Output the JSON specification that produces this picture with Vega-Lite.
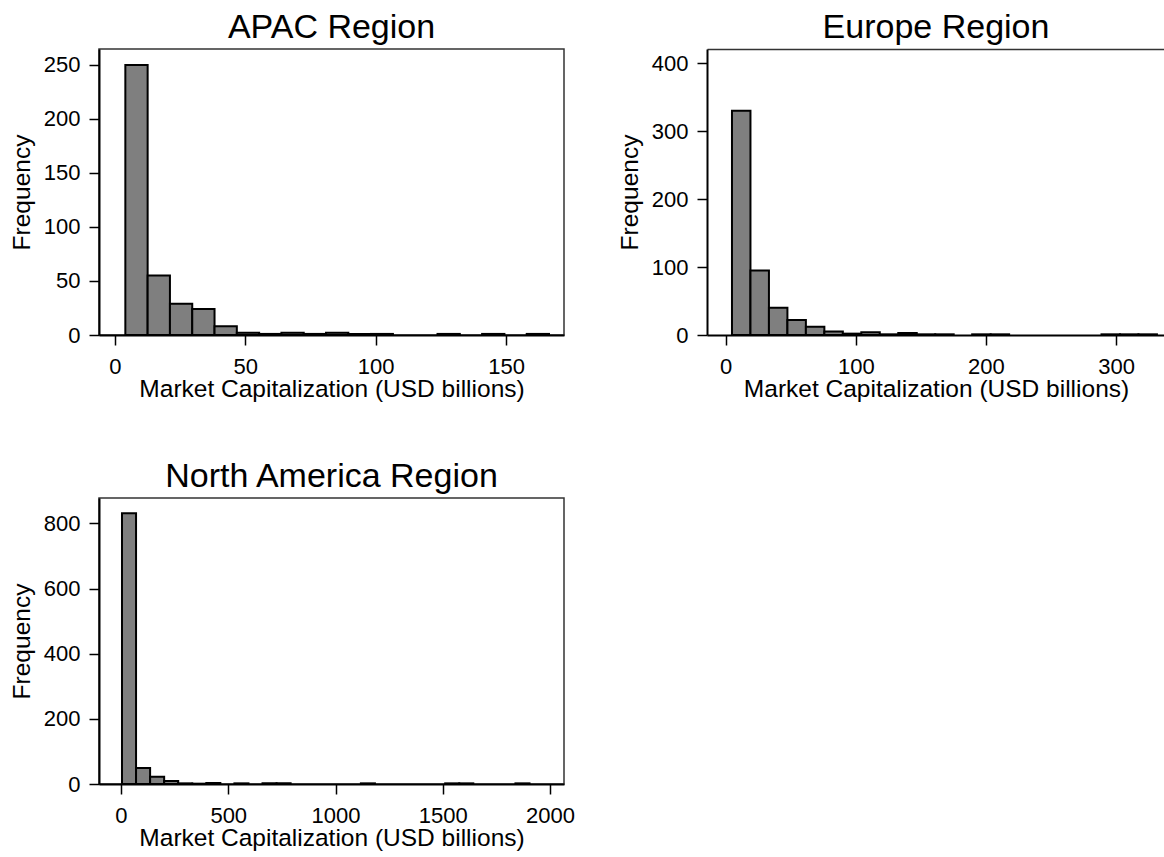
{
  "$schema": "https://vega.github.io/schema/vega-lite/v6.json",
  "background": "white",
  "padding": {"left": 8, "top": 10, "right": 0, "bottom": 0},
  "config": {
    "font": "Liberation Sans",
    "view": {"stroke": "#333333", "strokeWidth": 1.5},
    "axis": {
      "grid": false,
      "labelFont": "Liberation Sans",
      "titleFont": "Liberation Sans",
      "labelFontSize": 22,
      "titleFontSize": 24.5,
      "titleFontWeight": "normal",
      "labelColor": "black",
      "titleColor": "black",
      "domainColor": "black",
      "domainWidth": 2,
      "tickColor": "black",
      "tickWidth": 1.5,
      "tickSize": 10,
      "labelPadding": 9,
      "format": "d"
    },
    "axisX": {"titlePadding": 0, "labelPadding": 11, "labelFlush": false},
    "axisY": {"titlePadding": 9},
    "title": {"font": "Liberation Sans", "fontSize": 34, "fontWeight": "normal", "color": "black", "anchor": "middle", "offset": 4}
  },
  "datasets": {
    "apac": [
      {"lo": 4.0, "hi": 12.55, "n": 250},
      {"lo": 12.55, "hi": 21.1, "n": 55},
      {"lo": 21.1, "hi": 29.65, "n": 29},
      {"lo": 29.65, "hi": 38.2, "n": 24},
      {"lo": 38.2, "hi": 46.75, "n": 8},
      {"lo": 46.75, "hi": 55.3, "n": 2},
      {"lo": 55.3, "hi": 63.85, "n": 1},
      {"lo": 63.85, "hi": 72.4, "n": 2},
      {"lo": 72.4, "hi": 80.95, "n": 1},
      {"lo": 80.95, "hi": 89.5, "n": 2},
      {"lo": 89.5, "hi": 98.05, "n": 1},
      {"lo": 98.05, "hi": 106.6, "n": 1},
      {"lo": 123.7, "hi": 132.25, "n": 1},
      {"lo": 140.8, "hi": 149.35, "n": 1},
      {"lo": 157.9, "hi": 166.45, "n": 1}
    ],
    "europe": [
      {"lo": 4.8, "hi": 19.0, "n": 330},
      {"lo": 19.0, "hi": 33.2, "n": 95},
      {"lo": 33.2, "hi": 47.4, "n": 40},
      {"lo": 47.4, "hi": 61.6, "n": 22},
      {"lo": 61.6, "hi": 75.8, "n": 12},
      {"lo": 75.8, "hi": 90.0, "n": 5},
      {"lo": 90.0, "hi": 104.2, "n": 2},
      {"lo": 104.2, "hi": 118.4, "n": 4},
      {"lo": 118.4, "hi": 132.6, "n": 1},
      {"lo": 132.6, "hi": 146.8, "n": 3},
      {"lo": 146.8, "hi": 161.0, "n": 1},
      {"lo": 161.0, "hi": 175.2, "n": 1},
      {"lo": 189.4, "hi": 203.6, "n": 1},
      {"lo": 203.6, "hi": 217.8, "n": 1},
      {"lo": 288.8, "hi": 303.0, "n": 1},
      {"lo": 303.0, "hi": 317.2, "n": 1},
      {"lo": 317.2, "hi": 331.4, "n": 1}
    ],
    "na": [
      {"lo": 4.7, "hi": 70.2, "n": 831},
      {"lo": 70.2, "hi": 135.7, "n": 49},
      {"lo": 135.7, "hi": 201.2, "n": 22},
      {"lo": 201.2, "hi": 266.7, "n": 9},
      {"lo": 266.7, "hi": 332.2, "n": 2},
      {"lo": 332.2, "hi": 397.7, "n": 1},
      {"lo": 397.7, "hi": 463.2, "n": 3},
      {"lo": 528.7, "hi": 594.2, "n": 2},
      {"lo": 659.7, "hi": 725.2, "n": 2},
      {"lo": 725.2, "hi": 790.7, "n": 2},
      {"lo": 1118.2, "hi": 1183.7, "n": 2},
      {"lo": 1511.2, "hi": 1576.7, "n": 2},
      {"lo": 1576.7, "hi": 1642.2, "n": 2},
      {"lo": 1838.7, "hi": 1904.2, "n": 2}
    ]
  },
  "spacing": 57,
  "vconcat": [
    {
      "spacing": 52,
      "hconcat": [
        {
          "width": 465,
          "height": 286,
          "title": "APAC Region",
          "data": {"name": "apac"},
          "mark": {"type": "bar", "fill": "#7f7f7f", "stroke": "black", "strokeWidth": 2},
          "encoding": {
            "x": {"field": "lo", "type": "quantitative", "scale": {"domain": [-6.1, 172.2], "nice": false, "zero": false}, "axis": {"values": [0, 50, 100, 150], "title": "Market Capitalization (USD billions)"}},
            "x2": {"field": "hi"},
            "y": {"field": "n", "type": "quantitative", "scale": {"domain": [0, 264.8], "nice": false}, "axis": {"values": [0, 50, 100, 150, 200, 250], "title": "Frequency"}},
            "y2": {"datum": 0}
          }
        },
        {
          "width": 458,
          "height": 286,
          "title": "Europe Region",
          "view": {"stroke": null},
          "data": {"name": "europe"},
          "layer": [
            {
              "mark": {"type": "bar", "fill": "#7f7f7f", "stroke": "black", "strokeWidth": 2},
              "encoding": {
                "x": {"field": "lo", "type": "quantitative", "scale": {"domain": [-14.4, 337.6], "nice": false, "zero": false}, "axis": {"values": [0, 100, 200, 300], "title": "Market Capitalization (USD billions)"}},
                "x2": {"field": "hi"},
                "y": {"field": "n", "type": "quantitative", "scale": {"domain": [0, 421], "nice": false}, "axis": {"values": [0, 100, 200, 300, 400], "title": "Frequency"}},
                "y2": {"datum": 0}
              }
            },
            {
              "mark": {"type": "bar", "opacity": 0},
              "encoding": {
                "x": {"field": "lo", "type": "quantitative", "axis": {"orient": "top", "labels": false, "ticks": false, "title": null, "domainColor": "#333333", "domainWidth": 1.5}},
                "x2": {"field": "hi"},
                "y": {"field": "n", "type": "quantitative"},
                "y2": {"datum": 0}
              }
            }
          ],
          "resolve": {"axis": {"x": "independent"}}
        }
      ]
    },
    {
      "width": 465,
      "height": 286,
      "title": "North America Region",
      "data": {"name": "na"},
      "mark": {"type": "bar", "fill": "#7f7f7f", "stroke": "black", "strokeWidth": 2},
      "encoding": {
        "x": {"field": "lo", "type": "quantitative", "scale": {"domain": [-102.5, 2065], "nice": false, "zero": false}, "axis": {"values": [0, 500, 1000, 1500, 2000], "title": "Market Capitalization (USD billions)"}},
        "x2": {"field": "hi"},
        "y": {"field": "n", "type": "quantitative", "scale": {"domain": [0, 878], "nice": false}, "axis": {"values": [0, 200, 400, 600, 800], "title": "Frequency"}},
        "y2": {"datum": 0}
      }
    }
  ]
}
